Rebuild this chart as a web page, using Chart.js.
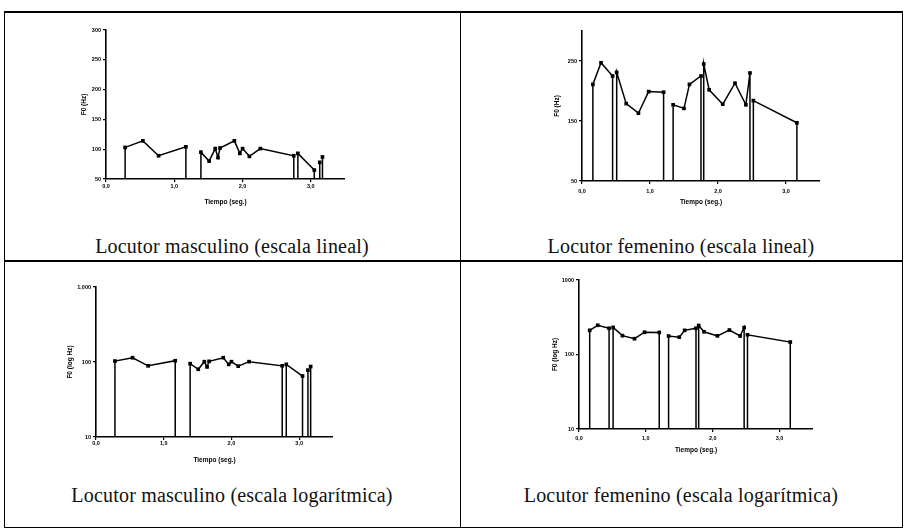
<!DOCTYPE html>
<html>
<head>
<meta charset="utf-8">
<script src="https://cdn.jsdelivr.net/npm/chart.js@4/dist/chart.umd.min.js"></script>
<style>
  body { margin: 0; background: #fff; width: 904px; height: 531px; position: relative; overflow: hidden; }
  canvas { position: absolute; }
  .rule { position: absolute; background: #000; }
  .caption {
    position: absolute; width: 440px; text-align: center;
    font-family: "Liberation Serif", "DejaVu Serif", serif; font-size: 20px; letter-spacing: 0.2px; color: #111;
  }
</style>
</head>
<body>
<div class="rule" style="left:4px;top:11px;width:899px;height:2px"></div>
<div class="rule" style="left:4px;top:260px;width:899px;height:2px"></div>
<div class="rule" style="left:4px;top:527px;width:899px;height:1px"></div>
<div class="rule" style="left:4px;top:11px;width:1px;height:517px"></div>
<div class="rule" style="left:460px;top:11px;width:1px;height:517px"></div>
<div class="rule" style="left:902px;top:11px;width:1px;height:517px"></div>

<canvas id="male-linear" width="265" height="186" style="left:80px;top:20px"></canvas>
<canvas id="female-linear" width="267" height="185" style="left:553px;top:21px"></canvas>
<canvas id="male-log" width="267" height="187" style="left:66px;top:277px"></canvas>
<canvas id="female-log" width="262" height="184" style="left:551px;top:270px"></canvas>

<div class="caption" style="left:12px;top:235px">Locutor masculino (escala lineal)</div>
<div class="caption" style="left:461px;top:235px">Locutor femenino (escala lineal)</div>
<div class="caption" style="left:12px;top:484px">Locutor masculino (escala logarítmica)</div>
<div class="caption" style="left:461px;top:484px">Locutor femenino (escala logarítmica)</div>

<script>
// voiced stretches: time (s) and F0 (Hz) of each measured point
const maleTimes = [
  [0.28, 0.54, 0.77, 1.17],
  [1.39, 1.51, 1.60, 1.64, 1.67, 1.88, 1.96, 2.00, 2.10, 2.26, 2.75],
  [2.81, 3.05],
  [3.13],
  [3.17],
];
const maleF0 = [
  [103, 114, 89, 104],
  [95, 80, 101, 86, 102, 114, 93, 101, 88, 101, 89],
  [93, 65],
  [78],
  [87],
];
const femaleTimes = [
  [0.16, 0.28, 0.45],
  [0.51, 0.65, 0.83, 0.98, 1.20],
  [1.34, 1.50, 1.58, 1.75],
  [1.79, 1.87, 2.07, 2.25, 2.41, 2.47],
  [2.52, 3.16],
];
const femaleF0 = [
  [211, 247, 225],
  [231, 179, 163, 199, 198],
  [177, 171, 211, 225],
  [245, 202, 178, 213, 177, 230],
  [184, 147],
];

const timeTicks = [0, 1, 2, 3];
const timeLabels = ['0,0', '1,0', '2,0', '3,0'];
const maleLinTicks = [50, 100, 150, 200, 250, 300];
const femaleLinTicks = [50, 150, 250];
const logTicks = [10, 100, 1000];
const maleLogLabels = ['10', '100', '1,000'];
const femaleLogLabels = ['10', '100', '1000'];

const tickFont = { family: 'Liberation Sans', size: 5.5, weight: 'bold' };
const titleFont = { family: 'Liberation Sans', size: 6.5, weight: 'bold' };

// each stretch rises from the floor of the axis and falls back to it
function tracePoints(times, values, floor) {
  const pts = [];
  times.forEach((seg, i) => {
    pts.push({ x: seg[0], y: floor });
    seg.forEach((t, j) => pts.push({ x: t, y: values[i][j] }));
    pts.push({ x: seg[seg.length - 1], y: floor });
  });
  return pts;
}

function f0Chart(id, times, values, yCfg, box) {
  const floor = yCfg.min;
  return new Chart(document.getElementById(id), {
    type: 'line',
    data: {
      datasets: [
        {
          data: tracePoints(times, values, floor),
          borderColor: '#000',
          backgroundColor: '#000',
          borderWidth: 1.5,
          tension: 0,
          pointStyle: 'rect',
          pointRadius: ctx => (ctx.raw && ctx.raw.y === floor ? 0 : 2.6),
          pointBorderWidth: 0,
        },
      ],
    },
    options: {
      responsive: false,
      animation: false,
      devicePixelRatio: 1,
      layout: { padding: { top: 10, left: 0, right: 0, bottom: 0 } },
      plugins: { legend: { display: false }, tooltip: { enabled: false } },
      scales: {
        x: {
          type: 'linear',
          min: 0,
          max: 3.5,
          afterBuildTicks: s => { s.ticks = timeTicks.map(v => ({ value: v })); },
          afterFit: s => { s.height = box.xh; },
          ticks: {
            color: '#000',
            font: tickFont,
            padding: box.xpad,
            maxRotation: 0,
            callback: v => timeLabels[timeTicks.indexOf(v)],
          },
          grid: { drawOnChartArea: false, color: '#000', tickLength: 3, lineWidth: 1.2 },
          border: { color: '#000', width: 1.6 },
          title: { display: true, text: 'Tiempo (seg.)', color: '#000', font: titleFont, padding: 0 },
        },
        y: {
          type: yCfg.type,
          min: yCfg.min,
          max: yCfg.max,
          afterBuildTicks: s => { s.ticks = yCfg.ticks.map(v => ({ value: v })); },
          afterFit: s => { s.width = box.yw; },
          ticks: {
            color: '#000',
            font: tickFont,
            padding: 2,
            callback: v => yCfg.labels[yCfg.ticks.indexOf(v)],
          },
          grid: { drawOnChartArea: false, color: '#000', tickLength: 3, lineWidth: 1.2 },
          border: { color: '#000', width: 1.6 },
          title: { display: true, text: yCfg.title, color: '#000', font: titleFont, padding: 0 },
        },
      },
    },
  });
}

f0Chart('male-linear', maleTimes, maleF0,
  { type: 'linear', min: 50, max: 300, ticks: maleLinTicks, labels: maleLinTicks.map(String), title: 'F0 (Hz)' },
  { yw: 26, xh: 27, xpad: 1 });

f0Chart('female-linear', femaleTimes, femaleF0,
  { type: 'linear', min: 50, max: 300, ticks: femaleLinTicks, labels: femaleLinTicks.map(String), title: 'F0 (Hz)' },
  { yw: 29, xh: 25, xpad: 4 });

f0Chart('male-log', maleTimes, maleF0,
  { type: 'logarithmic', min: 10, max: 1000, ticks: logTicks, labels: maleLogLabels, title: 'F0 (log Hz)' },
  { yw: 30, xh: 27, xpad: 0 });

f0Chart('female-log', femaleTimes, femaleF0,
  { type: 'logarithmic', min: 10, max: 1000, ticks: logTicks, labels: femaleLogLabels, title: 'F0 (log Hz)' },
  { yw: 28, xh: 25, xpad: 3 });
</script>
</body>
</html>
